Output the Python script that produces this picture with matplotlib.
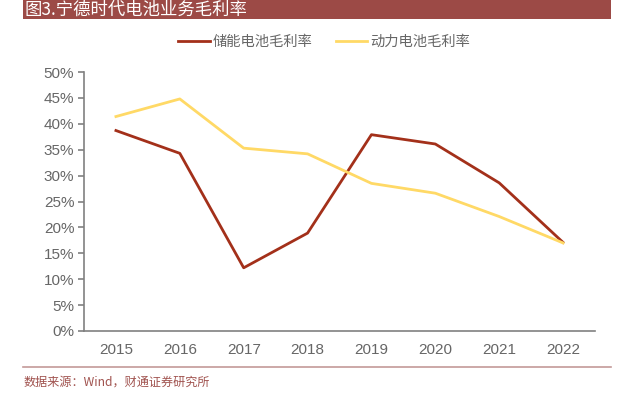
import matplotlib
matplotlib.use("Agg")
import matplotlib.pyplot as plt
from matplotlib.lines import Line2D
from matplotlib.patches import Rectangle

plt.rcParams['font.family'] = ['Noto Sans CJK SC', 'DejaVu Sans']

years = ["2015", "2016", "2017", "2018", "2019", "2020", "2021", "2022"]
storage_margin = [0.387, 0.343, 0.122, 0.189, 0.379, 0.361, 0.286, 0.171]
power_margin = [0.414, 0.448, 0.353, 0.342, 0.285, 0.266, 0.221, 0.170]
yticks = [0, 0.05, 0.10, 0.15, 0.20, 0.25, 0.30, 0.35, 0.40, 0.45, 0.50]
ytick_labels = ["0%", "5%", "10%", "15%", "20%", "25%", "30%", "35%", "40%", "45%", "50%"]
series_names = ["储能电池毛利率", "动力电池毛利率"]
title = "图3.宁德时代电池业务毛利率"
source = "数据来源：Wind，财通证券研究所"

W, H = 633, 398
fig = plt.figure(figsize=(W / 100, H / 100), dpi=100)

# Title bar
fig.patches.append(Rectangle((23 / W, 1 - 19 / H), 588 / W, 19 / H, transform=fig.transFigure,
                             facecolor="#9C4A46", edgecolor="none", zorder=0))
fig.text(25 / W, 1 - 10 / H, title, color="white", fontsize=12.5, va="center", ha="left")

# Separator line
fig.add_artist(Line2D([23 / W, 611 / W], [1 - 367 / H, 1 - 367 / H], transform=fig.transFigure,
                      color="#C49A98", lw=1.2))
fig.text(24 / W, 1 - 382 / H, source, color="#A0524E", fontsize=8.7, va="center", ha="left")

ax = fig.add_axes([84 / W, 1 - 331 / H, (595 - 84) / W, (331 - 72) / H])
x = list(range(len(years)))
l1, = ax.plot(x, storage_margin, color="#A3301A", lw=2.0, label=series_names[0])
l2, = ax.plot(x, power_margin, color="#FFD966", lw=2.0, label=series_names[1])

ax.set_xlim(-0.5, len(years) - 0.5)
ax.set_ylim(0, 0.5)
ax.set_xticks(x)
ax.set_xticklabels(years, family=["Liberation Sans"], fontsize=11, color="#666666")
ax.set_yticks(yticks)
ax.set_yticklabels(ytick_labels, family=["Liberation Sans"], fontsize=11, color="#666666")
for s in ["top", "right"]:
    ax.spines[s].set_visible(False)
for s in ["left", "bottom"]:
    ax.spines[s].set_color("#808080")
    ax.spines[s].set_linewidth(1.2)
ax.tick_params(axis="y", colors="#808080", length=4, width=1.2, pad=3)
ax.tick_params(axis="x", length=0, pad=9)
for lab in ax.get_xticklabels() + ax.get_yticklabels():
    lab.set_color("#666666")

fig.legend(handles=[l1, l2], loc="center", bbox_to_anchor=(324 / W, 1 - 42 / H), ncol=2,
           frameon=False, fontsize=10.3, labelcolor="#666666", handlelength=2.2,
           columnspacing=1.65, handletextpad=0.2)

fig.savefig("out.png", dpi=100)
